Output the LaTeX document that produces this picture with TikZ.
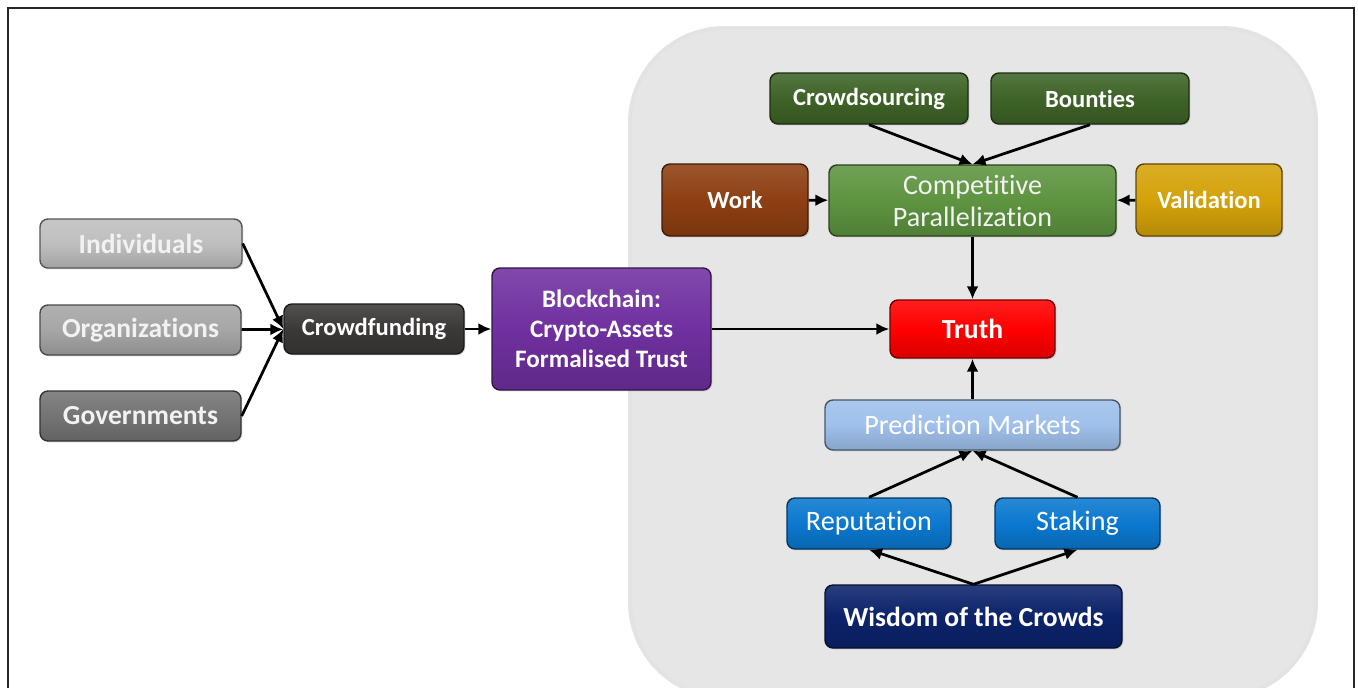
\documentclass[tikz,border=0pt]{standalone}
\usepackage{fontspec}
\setmainfont{Carlito}[RawFeature={-liga;-dlig;-clig}]
\usetikzlibrary{arrows.meta, shadows}

\definecolor{cInd}{HTML}{BFBFBF}
\definecolor{cOrg}{HTML}{A6A6A6}
\definecolor{cGov}{HTML}{747474}
\definecolor{cCf}{HTML}{3B3838}
\definecolor{cBc}{HTML}{7030A0}
\definecolor{cTr}{HTML}{FF0000}
\definecolor{cCp}{HTML}{5E9440}
\definecolor{cWk}{HTML}{8E3F12}
\definecolor{cVal}{HTML}{D4A20A}
\definecolor{cCs}{HTML}{3E6327}
\definecolor{cPm}{HTML}{9FC0EB}
\definecolor{cRep}{HTML}{0B78CF}
\definecolor{cWoc}{HTML}{0C236B}
\definecolor{cTxt}{HTML}{F2F2F2}
\definecolor{cBg}{HTML}{E6E6E6}

\newcommand\fbig{\fontsize{15.7}{17}\selectfont\bfseries}
\newcommand\fblk{\fontsize{14.3}{17}\selectfont\bfseries}
\newcommand\fmid{\fontsize{14}{17}\selectfont\bfseries}
\newcommand\freg{\fontsize{16}{18.2}\selectfont}

\tikzset{
  bx/.style={rounded corners=0.16cm, draw=#1!45!black, line width=0.8pt,
    top color=#1!88!white, bottom color=#1!85!black, middle color=#1,
    text=cTxt, align=center, inner sep=0pt,
    drop shadow={opacity=0.25, shadow xshift=0.8pt, shadow yshift=-0.8pt}},
  sz/.style 2 args={minimum width=#1*0.02cm, minimum height=#2*0.02cm},
  arr/.style={-{Latex[length=0.26cm,width=0.24cm]}, line width=0.055cm}
}

\begin{document}
\begin{tikzpicture}[x=0.02cm, y=-0.02cm]
\useasboundingbox (0,0) rectangle (1358,687);
\clip (0,0) rectangle (1358,687);
\fill[white] (0,0) rectangle (1358,687);
\fill[cBg, draw=black!11, line width=0.08cm, rounded corners=1.9cm] (630,28) rectangle (1316,697);
\draw[black!85, line width=0.04cm] (8,720) -- (8,8) -- (1354,8) -- (1354,720);

\node[bx=cInd, sz={202}{49}, font=\fbig] (ind) at (141,243.5) {Individuals};
\node[bx=cOrg, sz={201}{50}, font=\fbig] (org) at (140.5,330) {Organizations};
\node[bx=cGov, sz={201}{50}, font=\fbig] (gov) at (140.5,416) {Governments};
\node[bx=cCf, sz={180}{50}, font=\fmid, text=white] (cf) at (374,329) {Crowdfunding};
\node[bx=cBc, sz={219}{122}, font=\fblk, text=white] (bc) at (601.5,329) {Blockchain:\\Crypto-Assets\\Formalised Trust};
\node[bx=cTr, sz={165}{58}, font=\fbig, text=white] (tr) at (972.5,329) {Truth};
\node[bx=cCp, sz={287}{71}, font=\freg] (cp) at (972.5,200.5) {Compet\kern0pt i\kern0pt t\kern0pt i\kern0pt ve\\Parallelizat\kern0pt ion};
\node[bx=cWk, sz={146}{72}, font=\fmid, text=white] (wk) at (735,200) {Work};
\node[bx=cVal, sz={146}{72}, font=\fmid, text=white] (val) at (1209,200) {Validation};
\node[bx=cCs, sz={198}{51}, font=\fmid, text=white] (cs) at (869,98.5) {Crowdsourcing};
\node[bx=cCs, sz={198}{51}, font=\fmid, text=white] (bo) at (1090,98.5) {Bounties};
\node[bx=cPm, sz={295}{50}, font=\freg, text=white] (pm) at (972.5,425) {Predict\kern0pt ion Markets};
\node[bx=cRep, sz={164}{51}, font=\freg, text=white] (rep) at (869,523.5) {Reputat\kern0pt ion};
\node[bx=cRep, sz={165}{51}, font=\freg, text=white] (stk) at (1077.5,523.5) {Staking};
\node[bx=cWoc, sz={297}{63}, font=\fbig, text=white] (woc) at (973.5,616.5) {Wisdom of the Crowds};

\draw[arr] (ind.east) -- (cf.west);
\draw[arr] (org) -- (cf);
\draw[arr] (gov.east) -- (cf.west);
\draw[arr] (cf) -- (bc);
\draw[arr] (bc) -- (tr);
\draw[arr] (cs.south) -- (cp.north);
\draw[arr] (bo.south) -- (cp.north);
\draw[arr] (wk) -- (cp);
\draw[arr] (val) -- (cp);
\draw[arr] (cp) -- (tr);
\draw[arr] (pm) -- (tr);
\draw[arr] (rep.north) -- (pm.south);
\draw[arr] (stk.north) -- (pm.south);
\draw[arr] (woc.north) -- (rep.south);
\draw[arr] (woc.north) -- (stk.south);
\end{tikzpicture}
\end{document}
